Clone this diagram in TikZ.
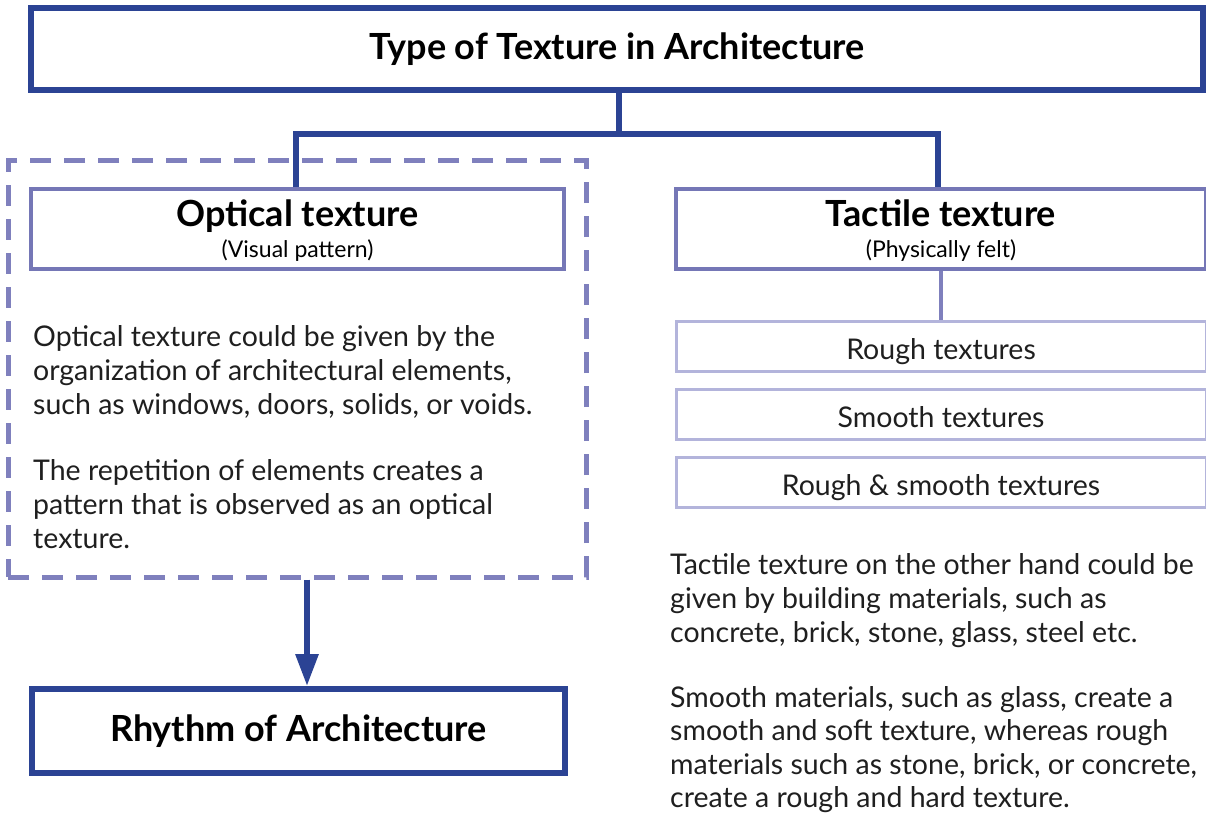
\documentclass[tikz,border=0pt]{standalone}
\usepackage{fontspec}
\setmainfont{Lato}
\usetikzlibrary{arrows.meta}
\definecolor{dkblue}{HTML}{2B4394}
\definecolor{midlav}{HTML}{7577B6}
\definecolor{dashlav}{HTML}{7F80BD}
\definecolor{ltlav}{HTML}{B3B4DB}
\definecolor{txt}{HTML}{1F1F1F}
\tikzset{
  mainbox/.style={draw=dkblue, line width=6pt, rectangle, inner sep=0pt, text=black, text height=21pt, text depth=0pt, font=\bfseries\fontsize{36}{40}\selectfont},
  catbox/.style={draw=midlav, line width=4pt, rectangle, inner sep=0pt, minimum height=80pt, align=center, text=black, text height=59pt, text depth=3pt, font=\fontsize{23}{31}\selectfont},
  subbox/.style={draw=ltlav, line width=3pt, rectangle, inner sep=0pt, minimum width=530pt, minimum height=50pt, text=txt, text height=26pt, text depth=0pt, font=\fontsize{28.5}{34}\selectfont},
  para/.style={anchor=base west, inner sep=0pt, align=left, text=txt, font=\fontsize{28.5}{34}\selectfont},
  trunk/.style={draw=dkblue, line width=6pt},
  twig/.style={draw=dashlav, line width=4pt},
}
\begin{document}
\begin{tikzpicture}[x=1pt,y=-1pt]
\clip (0,0) rectangle (1206,814);
\fill[white] (0,0) rectangle (1206,814);

% title
\node[mainbox, minimum width=1172pt, minimum height=82pt] (title) at (617,49) {Type of Texture in Architecture};

% dashed frame
\node[draw=dashlav, line width=5pt, dash pattern=on 21pt off 13pt, rectangle, minimum width=578pt, minimum height=417pt, inner sep=0pt] (frame) at (297,368.5) {};

% category boxes
\node[catbox, minimum width=533pt] (optical) at (297.5,229) {{\bfseries\fontsize{36}{31}\selectfont Optical texture}\\(Visual pattern)};
\node[catbox, minimum width=530pt] (tactile) at (941,229) {{\bfseries\fontsize{36}{31}\selectfont Tactile texture}\\(Physically felt)};

% connectors from title
\coordinate (j) at (619,134);
\draw[trunk] (title.south -| j) -- (j);
\draw[trunk, line join=miter] (optical.north -| 296,0) |- (938,134) -- (tactile.north -| 938,0);

% sub boxes
\node[subbox] (rough) at (941,346) {Rough textures};
\node[subbox] (smooth) at (941,414.5) {Smooth textures};
\node[subbox] (both) at (941,482.5) {Rough \& smooth textures};
\draw[twig] (tactile.south -| 941,0) -- (rough.north -| 941,0);

% paragraphs (anchored at the baseline of their last line)
\node[para] (op1) at (33,414) {Optical texture could be given by the\\organization of architectural elements,\\such as windows, doors, solids, or voids.};
\node[para] (op2) at (33,548) {The repetition of elements creates a\\pattern that is observed as an optical\\texture.};
\node[para] (ta1) at (670,642.5) {Tactile texture on the other hand could be\\given by building materials, such as\\concrete, brick, stone, glass, steel etc.};
\node[para, font=\fontsize{28.5}{33.5}\selectfont] (ta2) at (670,807.5) {Smooth materials, such as glass, create a\\smooth and soft texture, whereas rough\\materials such as stone, brick, or concrete,\\create a rough and hard texture.};

% rhythm
\node[mainbox, minimum width=533pt, minimum height=84pt] (rhythm) at (298.5,731) {Rhythm of Architecture};
\draw[trunk, -{Triangle[width=22pt,length=32pt]}] (frame.south -| 307,0) -- (rhythm.north -| 307,0);
\end{tikzpicture}
\end{document}
